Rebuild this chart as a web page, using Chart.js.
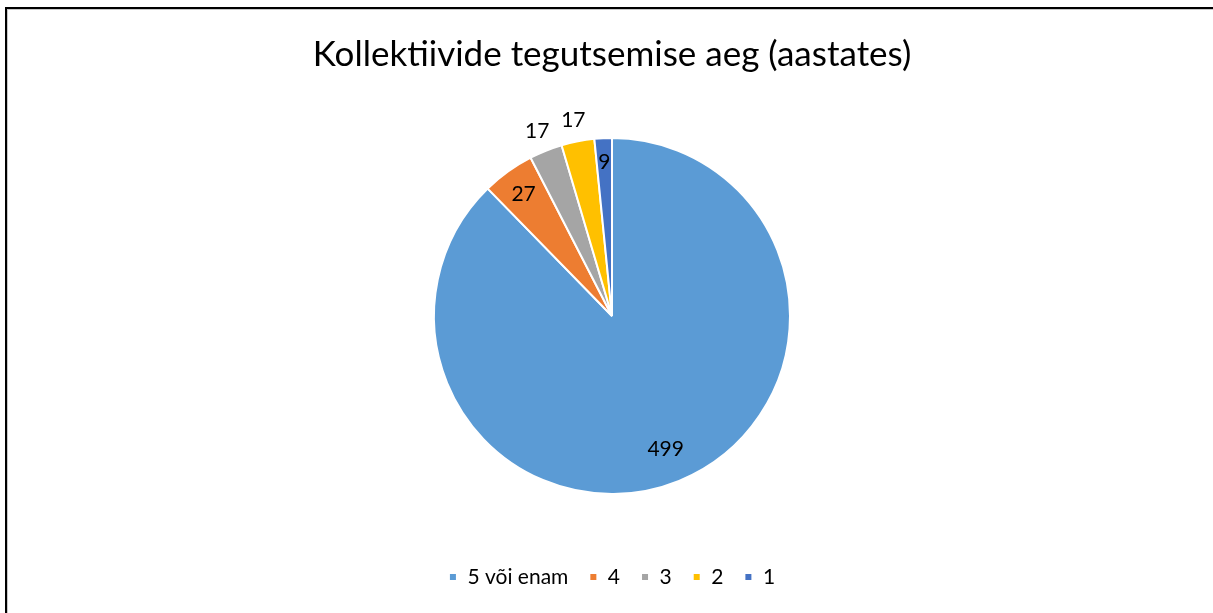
<!DOCTYPE html>
<html>
<head>
<meta charset="utf-8">
<script src="https://cdn.jsdelivr.net/npm/chart.js@4/dist/chart.umd.min.js"></script>
<style>
  html, body { margin: 0; padding: 0; background: #fff; overflow: hidden; }
  #wrap { position: relative; width: 1213px; height: 613px; }
  #frame { position: absolute; left: 5px; top: 7px; width: 3000px; height: 3000px;
           border-left: 2px solid #000; border-top: 2px solid #000;
           box-shadow: inset 1px 1px 0 #c8c8c8; pointer-events: none; }
</style>
</head>
<body>
<div id="wrap">
  <canvas id="c" width="1213" height="613"></canvas>
  <div id="frame"></div>
</div>
<script>
const titleText = 'Kollektiivide tegutsemise aeg (aastates)';
const categories = ['5 või enam', '4', '3', '2', '1'];
const values = [499, 27, 17, 17, 9];
const colors = ['#5B9BD5', '#ED7D31', '#A5A5A5', '#FFC000', '#4472C4'];
const labelRadiusFactor = [0.8, 0.85, 1.13, 1.13, 0.875];

const FONT = 'Lato, "Open Sans", sans-serif';

const sliceLabels = {
  id: 'sliceLabels',
  afterDatasetsDraw(chart) {
    const ctx = chart.ctx;
    const meta = chart.getDatasetMeta(0);
    ctx.save();
    ctx.font = '21px ' + FONT;
    ctx.fillStyle = '#000';
    ctx.textAlign = 'center';
    ctx.textBaseline = 'middle';
    meta.data.forEach((arc, i) => {
      const p = arc.getProps(['x', 'y', 'startAngle', 'endAngle', 'outerRadius'], true);
      const mid = (p.startAngle + p.endAngle) / 2;
      const r = p.outerRadius * labelRadiusFactor[i];
      ctx.fillText(String(values[i]), p.x + Math.cos(mid) * r, p.y + Math.sin(mid) * r + 1.5);
    });
    ctx.restore();
  }
};

new Chart(document.getElementById('c'), {
  type: 'pie',
  data: {
    labels: categories,
    datasets: [{
      data: values,
      backgroundColor: colors,
      borderColor: '#ffffff',
      borderWidth: 2,
      radius: 178
    }]
  },
  options: {
    responsive: false,
    animation: false,
    layout: { padding: { left: 11, top: 0, right: 0, bottom: 15.5 } },
    plugins: {
      title: {
        display: true,
        text: titleText,
        color: '#000',
        font: { family: FONT, size: 35, weight: 'normal', lineHeight: 1.2 },
        padding: { top: 34, bottom: 10.5 }
      },
      legend: {
        position: 'bottom',
        labels: {
          color: '#000',
          font: { family: FONT, size: 21 },
          boxWidth: 8,
          boxHeight: 8,
          padding: 21
        }
      },
      tooltip: { enabled: false }
    }
  },
  plugins: [sliceLabels]
});
</script>
</body>
</html>
